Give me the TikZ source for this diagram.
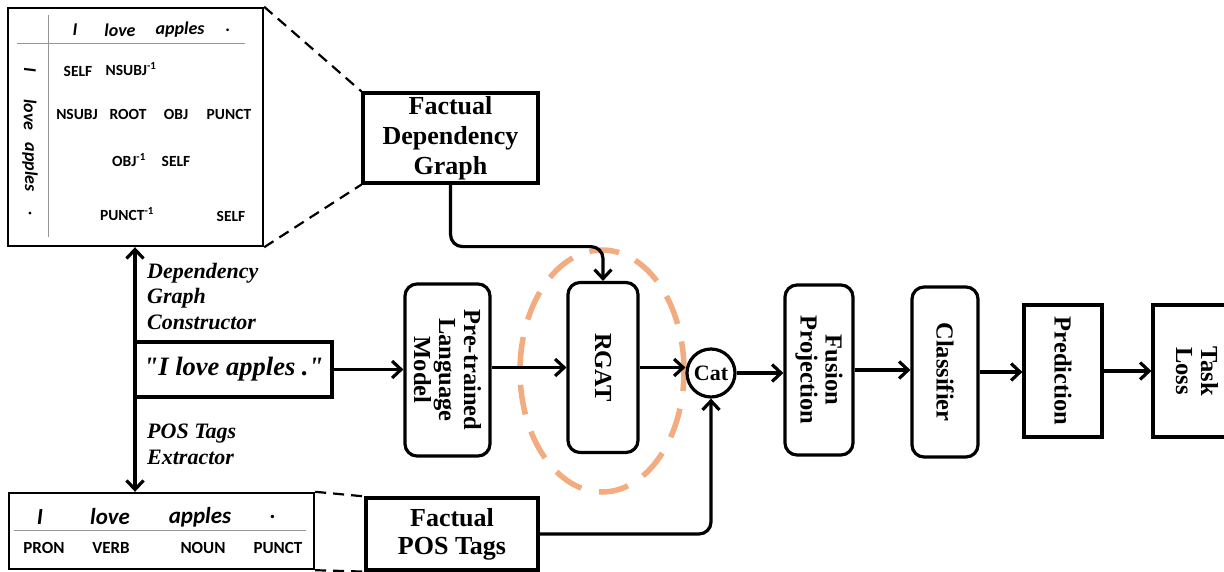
\documentclass[tikz,border=0pt]{standalone}
\usepackage{fontspec}
\setmainfont{Liberation Serif}
\newfontfamily\straightserif{Liberation Serif}[Ligatures=TeXOff]
\newfontfamily\calfont{Carlito}
\usetikzlibrary{arrows.meta,calc}

\definecolor{rgatring}{RGB}{242,172,128}
\definecolor{rulegrey}{RGB}{150,150,150}

\tikzset{
  box/.style={draw, line width=3.2pt, inner sep=0pt, align=center,
    font=\fontsize{26}{30}\selectfont\bfseries},
  rbox/.style={box, rounded corners=12pt},
  vtext/.style={rotate=-90, align=center, inner sep=0pt,
    font=\fontsize{24.5}{25}\selectfont\bfseries},
  arr/.style={line width=3.2pt, -{Straight Barb[length=9pt,width=17pt]}},
  dbl/.style={line width=3.2pt, {Straight Barb[length=9pt,width=17pt]}-{Straight Barb[length=9pt,width=17pt]}},
  link/.style={line width=3.2pt, rounded corners=12pt},
  zoomline/.style={line width=2.2pt, dash pattern=on 11pt off 7pt},
  frame/.style={draw, line width=2.4pt, inner sep=0pt},
  mcell/.style={font=\calfont\fontsize{15.5}{15.5}\selectfont\bfseries, inner sep=0pt},
  mhead/.style={font=\calfont\fontsize{18}{18}\selectfont\bfseries\itshape, inner sep=0pt},
  pword/.style={font=\calfont\fontsize{23}{23}\selectfont\bfseries\itshape, inner sep=0pt},
  ptag/.style={font=\calfont\fontsize{17}{17}\selectfont\bfseries, inner sep=0pt},
  steplabel/.style={font=\fontsize{22}{25.5}\selectfont\bfseries\itshape, align=left, inner sep=0pt, anchor=north west},
}

\newcommand{\inv}[1]{#1\textsuperscript{-1}}

\begin{document}
\begin{tikzpicture}[x=1pt,y=-1pt]
\useasboundingbox (0,0) rectangle (1224,571);
\fill[white] (0,0) rectangle (1224,571);

% ---------- dependency matrix ----------
\node[frame, minimum width=255pt, minimum height=238pt] (mat) at (135.5,127) {};
\draw[rulegrey, line width=1pt] (48,15) -- (48,237);
\draw[rulegrey, line width=1pt] (17,43) -- (245,43);
\node[mhead] (hI) at (75,30) {I};
\node[mhead] (hlove) at (120,30) {love};
\node[mhead] (happles) at (180,30) {apples};
\node[mhead] (hdot) at (228,30) {.};
\node[mhead, rotate=-90] (rI) at (30,70) {I};
\node[mhead, rotate=-90] (rlove) at (30,115) {love};
\node[mhead, rotate=-90] (rapples) at (30,167) {apples};
\node[mhead, rotate=-90] (rdot) at (30,214) {.};
\node[mcell] (c11) at (78,71) {SELF};
\node[mcell] (c12) at (131,69) {\inv{NSUBJ}};
\node[mcell] (c21) at (77,114) {NSUBJ};
\node[mcell] (c22) at (128,114) {ROOT};
\node[mcell] (c23) at (176,114) {OBJ};
\node[mcell] (c24) at (229,114) {PUNCT};
\node[mcell] (c32) at (129,160) {\inv{OBJ}};
\node[mcell] (c33) at (176,161) {SELF};
\node[mcell] (c42) at (127,214) {\inv{PUNCT}};
\node[mcell] (c44) at (231,216) {SELF};

% ---------- POS tag table ----------
\node[frame, minimum width=305pt, minimum height=76pt] (pos) at (161.5,531) {};
\draw[rulegrey, line width=1pt] (14,530) -- (306,530);
\node[pword] (wI) at (40,517) {I};
\node[pword] (wlove) at (110,517) {love};
\node[pword] (wapples) at (200,517) {apples};
\node[pword] (wdot) at (273,517) {.};
\node[ptag] (tI) at (44,548) {PRON};
\node[ptag] (tlove) at (111,548) {VERB};
\node[ptag] (tapples) at (203,548) {NOUN};
\node[ptag] (tdot) at (278,548) {PUNCT};

% ---------- input sentence ----------
\node[box, minimum width=197pt, minimum height=55pt,
  font=\straightserif\fontsize{26.5}{26.5}\selectfont\bfseries\itshape] (sent) at (233.5,369.5) {"I love apples ."};
\coordinate (spine) at (135,369.5);
\draw[dbl] (mat.south -| spine) -- (pos.north -| spine);
\node[steplabel] (dgc) at (147,263) {Dependency\\Graph\\Constructor};
\node[steplabel] (pte) at (147,424) {POS Tags\\Extractor};

% ---------- factual graph inputs ----------
\node[box, minimum width=175pt, minimum height=90pt] (fdg) at (450.5,138)
  {Factual\\Dependency\\Graph};
\node[box, minimum width=172pt, minimum height=72pt, font=\fontsize{26}{28}\selectfont\bfseries] (fpt) at (452,534)
  {Factual\\POS Tags};
\draw[zoomline] (mat.north east) -- (fdg.north west);
\draw[zoomline] (mat.south east) -- (fdg.south west);
\draw[zoomline] (pos.north east) -- (fpt.north west);
\draw[zoomline] (pos.south east) -- (fpt.south west);

% ---------- main pipeline ----------
\node[rbox, minimum width=85pt, minimum height=172pt] (plm) at (447.5,370) {};
\node[vtext] (plmt) at (plm.center) {Pre-trained\\Language\\Model};
\node[rbox, minimum width=70pt, minimum height=170pt] (rgat) at (603,367.5) {};
\node[vtext] (rgatt) at (rgat.center) {RGAT};
\draw[rgatring, line width=5.5pt, dash pattern=on 30pt off 18pt, dash phase=10pt]
  (602,371) ellipse [x radius=82, y radius=121];
\node[circle, draw, line width=3.2pt, minimum size=48pt, inner sep=0pt,
  font=\fontsize{22}{22}\selectfont\bfseries] (cat) at (711,373) {Cat};
\node[rbox, minimum width=68pt, minimum height=170pt] (fus) at (819,370) {};
\node[vtext] (fust) at (fus.center) {Fusion\\Projection};
\node[rbox, minimum width=66pt, minimum height=170pt] (cls) at (945,372) {};
\node[vtext] (clst) at (cls.center) {Classifier};
\node[box, minimum width=78pt, minimum height=132pt] (pred) at (1063,371) {};
\node[vtext] (predt) at (pred.center) {Prediction};
\node[box, minimum width=80pt, minimum height=132pt] (loss) at (1193,371) {};
\node[vtext] (losst) at (1197,371) {Task\\Loss};

% ---------- connectors ----------
\draw[arr] (sent.east) -- (plm.west |- sent.east);
\draw[arr] (plm.east |- rgat.west) -- (rgat.west);
\draw[arr] (rgat.east) -- (cat.west |- rgat.east);
\draw[arr] (cat.east) -- (fus.west |- cat.east);
\draw[arr] (fus.east) -- (cls.west |- fus.east);
\draw[arr] (cls.east) -- (pred.west |- cls.east);
\draw[arr] (pred.east) -- (loss.west);
\draw[arr, link] (fdg.south) -- ++(0,62) -| (rgat.north);
\draw[arr, link] (fpt.east) -| (cat.south);
\end{tikzpicture}
\end{document}
